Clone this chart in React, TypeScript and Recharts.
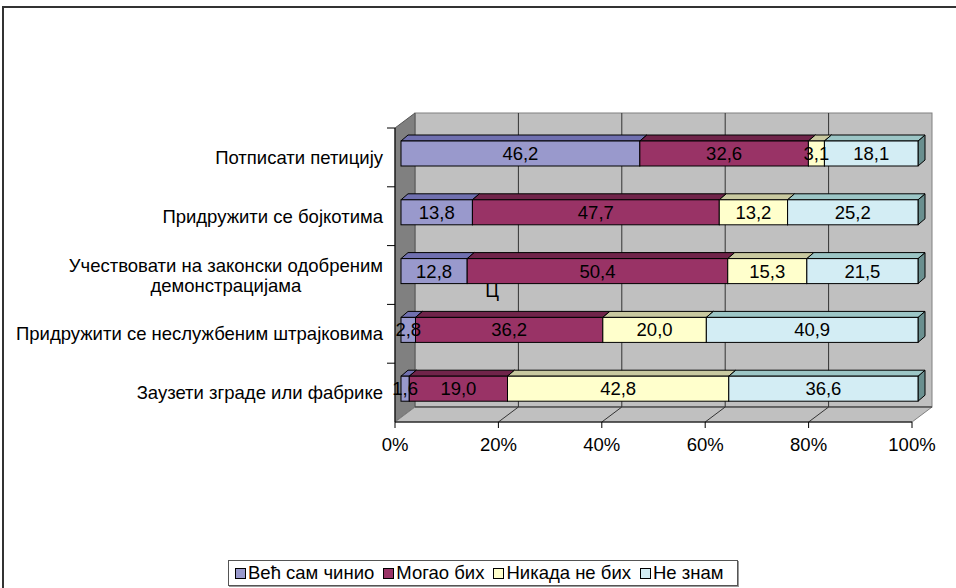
import React from 'react';
import { BarChart, Bar, XAxis, YAxis, LabelList } from 'recharts';

const CATEGORIES = [
  'Потписати петицију',
  'Придружити се бојкотима',
  'Учествовати на законски одобреним демонстрацијама',
  'Придружити се неслужбеним штрајковима',
  'Заузети зграде или фабрике',
];
const SERIES = ['Већ сам чинио', 'Могао бих', 'Никада не бих', 'Не знам'];
const VEC_SAM = [46.2, 13.8, 12.8, 2.8, 1.6];
const MOGAO = [32.6, 47.7, 50.4, 36.2, 19.0];
const NIKADA = [3.1, 13.2, 15.3, 20.0, 42.8];
const NE_ZNAM = [18.1, 25.2, 21.5, 40.9, 36.6];
const X_TICKS = [0, 0.2, 0.4, 0.6, 0.8, 1];

const VALUES = [VEC_SAM, MOGAO, NIKADA, NE_ZNAM];
const KEYS = ['s0', 's1', 's2', 's3'];
// front, top, side
const FACES = [
  ['#9999CC', '#7070B0', '#5C5C96'],
  ['#993366', '#70244A', '#5A1D3B'],
  ['#FFFFCC', '#C9C9A0', '#A6A684'],
  ['#D3EDF4', '#9CC6C6', '#6A8F8F'],
];

const data = CATEGORIES.map((name, i) => {
  const row: any = { name };
  KEYS.forEach((k, s) => (row[k] = VALUES[s][i]));
  return row;
});

const W = 956;
const H = 588;
const FONT = '"Liberation Sans", Arial, sans-serif';
const FS = 18.5;
const MARGIN = { top: 128, right: 44, bottom: 136, left: 0 };
const Y_W = 395;
const X_H = 30;
const PX = MARGIN.left + Y_W;
const PY = MARGIN.top;
const PW = W - PX - MARGIN.right;
const PH = H - PY - MARGIN.bottom - X_H;
const DEPTH = { dx: 20, dy: -15 };
const BAR_OFF = { dx: 6, dy: -4 };
const BAR_D = { dx: 7, dy: -6 };

let ctx: CanvasRenderingContext2D | null = null;
const measure = (t: string) => {
  if (!ctx) ctx = document.createElement('canvas').getContext('2d');
  if (!ctx) return t.length * 9;
  ctx.font = `${FS}px ${FONT}`;
  return ctx.measureText(t).width;
};

const wrap = (text: string, maxW: number) => {
  const words = text.split(' ');
  const lines: string[] = [];
  let cur = '';
  words.forEach(w => {
    const next = cur ? cur + ' ' + w : w;
    if (cur && measure(next) > maxW) {
      lines.push(cur);
      cur = w;
    } else cur = next;
  });
  if (cur) lines.push(cur);
  return lines;
};

const CatTick = (props: any) => {
  const { x, y, payload } = props;
  const band = PH / CATEGORIES.length;
  const lines = wrap(payload.value, 390);
  const widest = Math.max(...lines.map(measure));
  const cx = x - widest / 2;
  const lh = 20;
  const y0 = y - ((lines.length - 1) * lh) / 2;
  return (
    <g>
      <line x1={PX - 8} x2={PX} y1={y - band / 2} y2={y - band / 2} stroke="#000" />
      {lines.map((l, i) => (
        <text key={i} x={lines.length > 1 ? cx : x} y={y0 + i * lh} dy="0.355em"
          textAnchor={lines.length > 1 ? 'middle' : 'end'} fontSize={FS} fontFamily={FONT} fill="#000">
          {l}
        </text>
      ))}
    </g>
  );
};

const Walls = () => {
  const bx = PX + DEPTH.dx;
  const by = PY + DEPTH.dy;
  const bb = PY + PH + DEPTH.dy;
  const fb = PY + PH;
  return (
    <g>
      <rect x={bx} y={by} width={PW} height={PH} fill="#C0C0C0" stroke="#808080" />
      <polygon points={`${PX},${PY} ${bx},${by} ${bx},${bb} ${PX},${fb}`} fill="#808080" stroke="#555" />
      <polygon points={`${PX},${fb} ${bx},${bb} ${bx + PW},${bb} ${PX + PW},${fb}`} fill="#C0C0C0" stroke="#808080" />
      <line x1={bx} x2={bx + PW} y1={bb} y2={bb} stroke="#333" />
      {X_TICKS.slice(1, -1).map((t, i) => {
        const fx = PX + t * PW;
        return (
          <g key={i}>
            <line x1={fx + DEPTH.dx} x2={fx + DEPTH.dx} y1={by} y2={bb} stroke="#333" />
            <line x1={fx} y1={fb} x2={fx + DEPTH.dx} y2={bb} stroke="#333" />
          </g>
        );
      })}
    </g>
  );
};

const makeShape = (s: number) => (p: any) => {
  const { x, y, width, height } = p;
  if (width == null || height == null) return null;
  const [front, top, side] = FACES[s];
  const fx = x + BAR_OFF.dx;
  const fy = y + BAR_OFF.dy;
  const w = width;
  const h = height;
  const { dx, dy } = BAR_D;
  return (
    <g>
      <polygon points={`${fx + w},${fy} ${fx + w + dx},${fy + dy} ${fx + w + dx},${fy + h + dy} ${fx + w},${fy + h}`}
        fill={side} stroke="#000" strokeWidth={1} />
      <polygon points={`${fx},${fy} ${fx + dx},${fy + dy} ${fx + w + dx},${fy + dy} ${fx + w},${fy}`}
        fill={top} stroke="#000" strokeWidth={1} />
      <rect x={fx} y={fy} width={w} height={h} fill={front} stroke="#000" strokeWidth={1} />
    </g>
  );
};

const makeLabel = (s: number) => (p: any) => {
  const { x, y, width, height, index } = p;
  const v = VALUES[s][index];
  return (
    <text x={x + width / 2 + BAR_OFF.dx} y={y + height / 2 + BAR_OFF.dy} dy="0.355em" textAnchor="middle"
      fontSize={FS} fontFamily={FONT} fill="#000">
      {v.toFixed(1).replace('.', ',')}
    </text>
  );
};

const LegendBox = () => (
  <div style={{
    position: 'absolute', left: 228, top: 560, width: 502, height: 24, border: '1px solid #555',
    paddingLeft: 6, display: 'flex', alignItems: 'center', gap: 9,
    fontFamily: FONT, fontSize: FS, background: '#fff', boxSizing: 'content-box',
    boxShadow: '1px 1px 0 #999',
  }}>
    {SERIES.map((name, i) => (
      <div key={name} style={{ display: 'flex', alignItems: 'center', gap: 2, height: 24 }}>
        <span style={{ display: 'block', width: 9, height: 9, border: '1px solid #000', background: FACES[i][0] }} />
        <span style={{ display: 'block', lineHeight: '24px' }}>{name}</span>
      </div>
    ))}
  </div>
);

const App = () => (
  <div style={{ position: 'absolute', left: 0, top: 0, width: W, height: H, background: '#fff', overflow: 'hidden' }}>
    <div style={{ position: 'absolute', left: 2, top: 6, width: W + 20, height: H + 20, borderTop: '2px solid #333', borderLeft: '2px solid #333', boxSizing: 'border-box' }} />
    <BarChart width={W} height={H} data={data} layout="vertical" stackOffset="expand" margin={MARGIN} barSize={25}>
      <Walls />
      <XAxis type="number" domain={[0, 1]} ticks={X_TICKS} height={X_H} tickSize={6} tickMargin={10}
        tickFormatter={(v: number) => `${Math.round(v * 100)}%`} axisLine={{ stroke: '#000' }} tickLine={{ stroke: '#000' }}
        tick={{ fill: '#000', fontSize: FS, fontFamily: FONT }} interval={0} />
      <YAxis type="category" dataKey="name" width={Y_W} tickSize={8} tickMargin={4} tickLine={false}
        axisLine={{ stroke: '#000' }} tick={<CatTick />} interval={0} />
      {KEYS.map((k, s) => (
        <Bar key={k} dataKey={k} name={SERIES[s]} stackId="a" isAnimationActive={false} shape={makeShape(s)}>
          <LabelList dataKey={k} content={makeLabel(s)} />
        </Bar>
      ))}
      <text x={492} y={297} textAnchor="middle" fontSize={FS} fontFamily={FONT} fill="#000">Ц</text>
    </BarChart>
    <LegendBox />
  </div>
);

export default App;
